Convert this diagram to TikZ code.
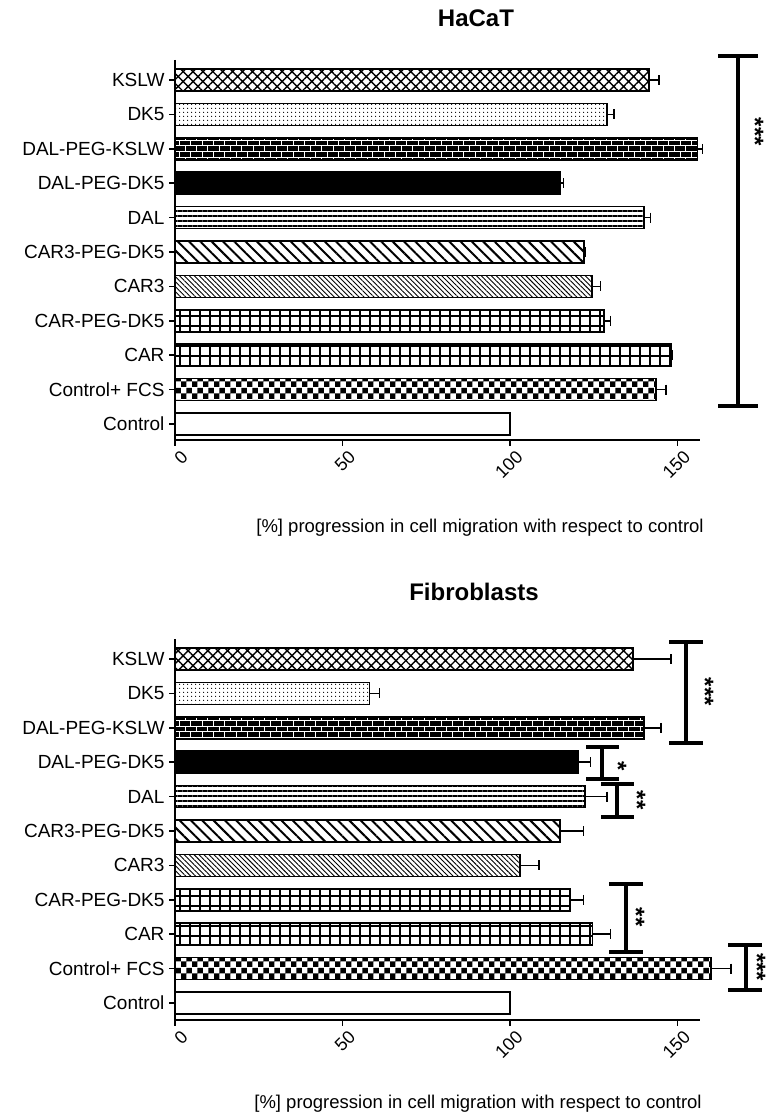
\documentclass[tikz,border=0pt]{standalone}
\usepackage{fontspec}
\setmainfont{Liberation Sans}
\usetikzlibrary{patterns,patterns.meta}
\begin{document}
\begin{tikzpicture}[x=1pt,y=-1pt,
  lab/.style={font=\fontsize{19}{21}\selectfont,anchor=east},
  ttl/.style={font=\fontsize{24}{28}\selectfont\bfseries},
  tk/.style={font=\fontsize{18}{20}\selectfont,anchor=north east,rotate=45,inner sep=1pt},
  xl/.style={font=\fontsize{18.5}{21}\selectfont},
  barst/.style={draw=black,line width=1.6pt},
  brk/.style={line width=3.5pt},
  st/.style={font=\fontsize{24}{24}\selectfont\bfseries,rotate=-90,inner sep=0pt},
  pKSLW/.style={pattern={Hatch[angle=45,distance=7pt,line width=1.4pt]}},
  pDK/.style={pattern={Dots[distance=4pt,radius=0.75pt]}},
  pBR/.style={preaction={fill=black},pattern=bricks,pattern color=white},
  pDPD/.style={fill=black},
  pDAL/.style={pattern={Lines[angle=0,distance=5pt,line width=1.3pt]}},
  pC3P/.style={pattern={Lines[angle=-45,distance=8pt,line width=2pt]}},
  pC3/.style={pattern={Lines[angle=-45,distance=3.5pt,line width=0.9pt]}},
  pGR/.style={pattern={Hatch[angle=0,distance=10pt,line width=2.5pt]}},
  pCH/.style={pattern=checkerboard},
  pCT/.style={fill=white}]
\useasboundingbox (0,0) rectangle (766,1116);
\def\sc{3.35}
\foreach \oy/\axy/\ttlt/\data in {
 80/440/HaCaT/{KSLW/141.5/144.5/pKSLW,DK5/129/131/pDK,DAL-PEG-KSLW/156/157.5/pBR,DAL-PEG-DK5/115/116/pDPD,DAL/140/142/pDAL,CAR3-PEG-DK5/122/122.5/pC3P,CAR3/124.5/127/pC3,CAR-PEG-DK5/128/130/pGR,CAR/148/148.5/pGR,Control+ FCS/143.5/146.5/pCH,Control/100/100/pCT},
 659/1020/Fibroblasts/{KSLW/136.7/148/pKSLW,DK5/58/61/pDK,DAL-PEG-KSLW/140/145/pBR,DAL-PEG-DK5/120.3/124/pDPD,DAL/122.4/129/pDAL,CAR3-PEG-DK5/115/122/pC3P,CAR3/103/108.7/pC3,CAR-PEG-DK5/118/122/pGR,CAR/124.6/130/pGR,Control+ FCS/160/166/pCH,Control/100/100/pCT}}{
  \foreach \nm/\v/\e/\p [count=\i from 0] in \data {
    \pgfmathsetmacro{\yc}{\oy+34.4*\i}
    \draw[barst,\p] (175,\yc-11) rectangle (175+\sc*\v,\yc+11);
    \ifdim \e pt>\v pt
      \draw[line width=1.5pt] (175+\sc*\v,\yc) -- (175+\sc*\e,\yc) (175+\sc*\e,\yc-5) -- (175+\sc*\e,\yc+5);
    \fi
    \draw[line width=1.5pt] (169,\yc) -- (175,\yc);
    \node[lab] (l\i) at (168,\yc) {\nm};
  }
  \draw[line width=1.8pt] (175,\oy-20) -- (175,\axy) -- (700,\axy);
  \foreach \t in {0,50,100,150} {
    \draw[line width=1.5pt] (175+\sc*\t,\axy) -- (175+\sc*\t,\axy+6);
    \node[tk] at (180+\sc*\t,\axy+8) {\t};
  }
}
\node[ttl] (t1) at (476,18) {HaCaT};
\node[ttl] (t2) at (474,592) {Fibroblasts};
\node[xl] (x1) at (480,528) {[\%] progression in cell migration with respect to control};
\node[xl] (x2) at (478,1104) {[\%] progression in cell migration with respect to control};
% brackets
\draw[brk] (718,56) -- (758,56) (738,56) -- (738,406) (718,406) -- (758,406);
\node[st] at (755,132) {***};
\draw[brk] (669,642) -- (703,642) (686,642) -- (686,743) (669,743) -- (703,743);
\node[st] at (705,692) {***};
\draw[brk] (586,747) -- (619,747) (602,747) -- (602,779) (586,779) -- (619,779);
\node[st] at (618,766) {*};
\draw[brk] (601,784) -- (634,784) (617,784) -- (617,817) (601,817) -- (634,817);
\node[st] at (637,800) {**};
\draw[brk] (609,884) -- (643,884) (626,884) -- (626,952) (609,952) -- (643,952);
\node[st] at (636,917) {**};
\draw[brk] (728,945) -- (762,945) (746,945) -- (746,990) (728,990) -- (762,990);
\node[st] at (757,967) {***};
\end{tikzpicture}
\end{document}
